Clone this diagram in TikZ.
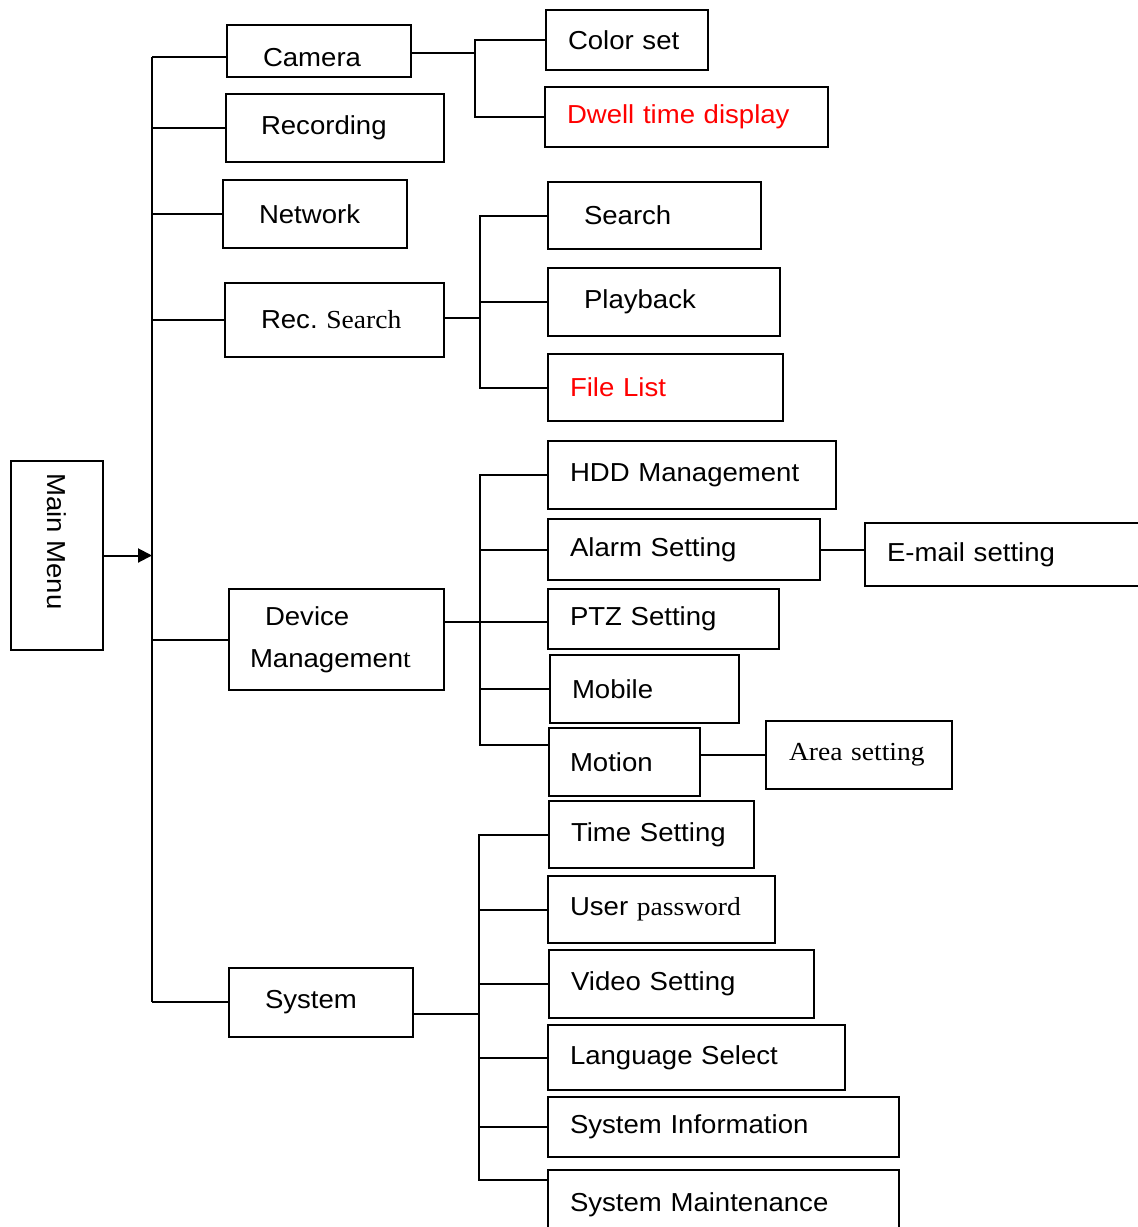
\documentclass[tikz,border=0pt]{standalone}
\usepackage{fontspec}
\setmainfont{Liberation Sans}[FakeStretch=1.06]
\newfontfamily\timesfont{Liberation Serif}[FakeStretch=1.06]
\usetikzlibrary{arrows.meta}
\frenchspacing

\begin{document}
\begin{tikzpicture}[x=1pt, y=-1pt, line width=2pt,
    box/.style n args={3}{draw, anchor=north west, align=left,
      minimum width=#1pt, minimum height=#2pt, inner xsep=#3pt, inner ysep=0pt,
      text width=#1pt-2*#3pt, font=\fontsize{26pt}{30pt}\selectfont}]

      \useasboundingbox (0,0) rectangle (1138,1227);

      % main menu and first level
      \node[draw, anchor=north west, minimum width=92pt, minimum height=189pt,
        inner sep=0pt, font=\fontsize{26pt}{30pt}\selectfont] (mm) at (10,460)
        {\rotatebox{-90}{Main Menu\hspace*{28pt}}};
      \node[box={184}{52}{36}] (cam) at (226,24) {\rule{0pt}{31pt}Camera};
      \node[box={218}{68}{35}] (rcd) at (225,93) {Recording};
      \node[box={184}{68}{36}] (net) at (222,179) {Network};
      \node[box={219}{74}{36}] (rec) at (224,282) {Rec. {\timesfont Search}};
      \node[box={215}{101}{21}, font=\fontsize{26pt}{42pt}\selectfont] (dev) at (228,588)
        {\hspace*{15pt}Device\\Managemen{\timesfont t}};
      \node[box={184}{69}{36}] (sys) at (228,967) {System};

      % camera
      \node[box={162}{60}{22}] (col) at (545,9) {Color set};
      \node[box={283}{60}{22}, text=red] (dwl) at (544,86) {Dwell time display};

      % rec. search
      \node[box={213}{67}{36}] (sea) at (547,181) {Search};
      \node[box={232}{68}{36}] (ply) at (547,267) {Playback};
      \node[box={235}{67}{22}, text=red] (fil) at (547,353) {File List};

      % device management
      \node[box={288}{68}{22}] (hdd) at (547,440) {HDD Management};
      \node[box={272}{61}{22}] (alm) at (547,518) {Alarm Setting};
      \node[box={290}{63}{22}] (mail) at (864,522) {E-mail setting};
      \node[box={231}{60}{22}] (ptz) at (547,588) {PTZ Setting};
      \node[box={189}{68}{22}] (mob) at (549,654) {Mobile};
      \node[box={151}{68}{21}] (mot) at (548,727) {Motion};
      \node[box={186}{68}{23}] (area) at (765,720) {\timesfont Area setting};

      % system
      \node[box={205}{67}{22}] (tim) at (548,800) {Time Setting};
      \node[box={227}{67}{22}] (usr) at (547,875) {User {\timesfont password}};
      \node[box={265}{68}{22}] (vid) at (548,949) {Video Setting};
      \node[box={297}{65}{22}] (lng) at (547,1024) {Language Select};
      \node[box={351}{60}{22}] (inf) at (547,1096) {System Information};
      \node[box={351}{70}{22}] (mnt) at (547,1169) {System Maintenance};

      % trunk
      \coordinate (ttop) at (152,57);
      \coordinate (tbot) at (152,1002);
      \draw (ttop) -- (tbot);
      \draw (ttop) -- (ttop -| cam.west);
      \draw (rcd.west -| ttop) -- (rcd.west);
      \draw (net.west -| ttop) -- (net.west);
      \draw (rec.west -| ttop) -- (rec.west);
      \draw (dev.west -| ttop) -- (dev.west);
      \draw (tbot) -- (tbot -| sys.west);
      \draw[-{Triangle[length=14pt, width=14pt]}] (mm.east) -- (mm.east -| ttop);

      % camera branch
      \coordinate (cj) at (475,53);
      \draw (cam.east |- cj) -- (cj);
      \draw (col.west) -- (col.west -| cj) -- (dwl.west -| cj) -- (dwl.west);

      % rec. search branch
      \coordinate (rj) at (480,318);
      \draw (rec.east |- rj) -- (rj);
      \draw (sea.west) -- (sea.west -| rj) -- (fil.west -| rj) -- (fil.west);
      \draw (ply.west -| rj) -- (ply.west);

      % device management branch
      \coordinate (dj) at (480,622);
      \coordinate (djb) at (480,745);
      \draw (dev.east |- dj) -- (dj);
      \draw (hdd.west) -- (hdd.west -| dj) -- (djb) -- (djb -| mot.west);
      \draw (alm.west -| dj) -- (alm.west);
      \draw (dj) -- (dj -| ptz.west);
      \draw (mob.west -| dj) -- (mob.west);
      \draw (alm.east) -- (alm.east -| mail.west);
      \draw (mot.east |- area.west) -- (area.west);

      % system branch
      \coordinate (sj) at (479,1014);
      \coordinate (sjb) at (479,1180);
      \draw (sys.east |- sj) -- (sj);
      \draw (tim.west) -- (tim.west -| sj) -- (sjb) -- (sjb -| mnt.west);
      \foreach \n in {usr, vid, lng, inf}
        \draw (\n.west -| sj) -- (\n.west);

    \end{tikzpicture}
\end{document}
